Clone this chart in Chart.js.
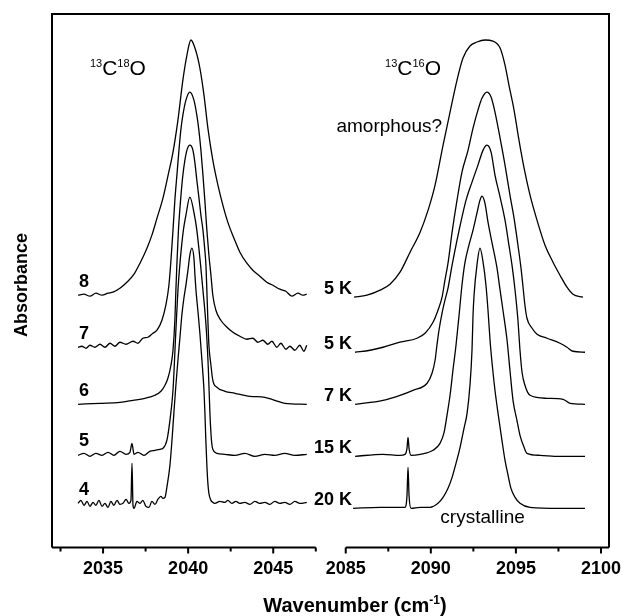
<!DOCTYPE html>
<html>
<head>
<meta charset="utf-8">
<script src="https://cdn.jsdelivr.net/npm/chart.js@4/dist/chart.umd.min.js"></script>
<style>
  body { margin: 0; background: #fff; }
  #wrap { width: 623px; height: 616px; }
</style>
</head>
<body>
<div id="wrap"><canvas id="spectra" width="623" height="616"></canvas></div>
<script>
// 13C18O band, spectra 4..8 (bottom to top), absorbance relative to own baseline
const wn4 = [2033.53, 2033.70, 2033.88, 2034.06, 2034.23, 2034.41, 2034.58, 2034.76, 2034.94, 2035.11,
  2035.29, 2035.46, 2035.64, 2035.82, 2035.99, 2036.17, 2036.35, 2036.52, 2036.64, 2036.70,
  2036.76, 2036.82, 2036.99, 2037.17, 2037.34, 2037.52, 2037.70, 2037.87, 2038.05, 2038.22,
  2038.40, 2038.52, 2038.64, 2038.75, 2038.93, 2039.05, 2039.16, 2039.28, 2039.40, 2039.52,
  2039.63, 2039.75, 2039.87, 2039.99, 2040.10, 2040.22, 2040.34, 2040.40, 2040.46, 2040.57,
  2040.69, 2040.81, 2040.93, 2040.98, 2041.04, 2041.10, 2041.16, 2041.22, 2041.34, 2041.45,
  2041.57, 2041.86, 2042.16, 2042.33, 2042.57, 2042.80, 2043.04, 2043.33, 2043.63, 2043.92,
  2044.21, 2044.51, 2044.80, 2045.09, 2045.39, 2045.68, 2045.98, 2046.27, 2046.56, 2046.97];
const ab4 = [0, 0.003, -0.002, 0.002, -0.003, 0.001, -0.002, 0.003, -0.003, 0,
  -0.004, 0.002, -0.002, 0.003, -0.001, 0, 0.004, 0, 0.003, 0.040,
  -0.002, -0.005, 0.002, 0, 0.003, -0.003, -0.004, 0.002, -0.001, 0.004,
  0.007, 0.005, 0.006, 0.016, 0.038, 0.063, 0.090, 0.118, 0.143, 0.166,
  0.188, 0.205, 0.218, 0.233, 0.248, 0.255, 0.245, 0.228, 0.213, 0.193,
  0.170, 0.143, 0.113, 0.093, 0.063, 0.038, 0.020, 0.010, 0.003, 0.001,
  0, 0.002, 0.001, 0.003, 0, 0.002, 0, 0.001, -0.001, 0.002,
  0, 0.001, -0.001, 0.002, 0, 0.001, -0.001, 0.002, 0, 0.001];

const wn5 = [2033.53, 2033.88, 2034.23, 2034.58, 2034.94, 2035.29, 2035.64, 2035.99, 2036.35, 2036.58,
  2036.70, 2036.82, 2037.05, 2037.40, 2037.75, 2038.05, 2038.34, 2038.52, 2038.75, 2038.93,
  2039.11, 2039.28, 2039.40, 2039.52, 2039.72, 2039.87, 2040.10, 2040.37, 2040.51, 2040.72,
  2040.87, 2041.07, 2041.19, 2041.28, 2041.37, 2041.45, 2041.69, 2042.16, 2042.75, 2043.33,
  2043.92, 2044.51, 2045.09, 2045.68, 2046.27, 2046.97];
const ab5 = [-0.001, 0.001, -0.002, 0.001, -0.001, 0.002, -0.001, 0.003, 0, 0.002,
  0.011, 0, 0.002, -0.001, 0.003, 0.004, 0.005, 0.006, 0.014, 0.034,
  0.064, 0.124, 0.164, 0.191, 0.224, 0.239, 0.257, 0.239, 0.224, 0.191,
  0.164, 0.124, 0.084, 0.041, 0.014, 0.005, 0.001, 0, -0.001, 0.001,
  -0.002, 0, -0.001, 0.001, -0.001, 0];

const wn6 = [2033.53, 2034.82, 2035.99, 2036.76, 2037.46, 2038.05, 2038.40, 2038.64, 2038.81, 2038.99,
  2039.11, 2039.22, 2039.28, 2039.34, 2039.43, 2039.57, 2039.69, 2039.81, 2039.93, 2040.10,
  2040.28, 2040.40, 2040.51, 2040.63, 2040.75, 2040.87, 2040.98, 2041.04, 2041.10, 2041.16,
  2041.22, 2041.34, 2041.45, 2041.69, 2042.16, 2042.75, 2043.63, 2044.51, 2045.09, 2045.68,
  2046.97];
const ab6 = [0, 0.001, 0.002, 0.004, 0.006, 0.009, 0.013, 0.019, 0.026, 0.039,
  0.054, 0.084, 0.114, 0.141, 0.174, 0.207, 0.229, 0.244, 0.254, 0.259,
  0.254, 0.241, 0.224, 0.207, 0.189, 0.174, 0.154, 0.141, 0.114, 0.084,
  0.059, 0.039, 0.024, 0.017, 0.013, 0.011, 0.008, 0.007, 0.004, 0.001,
  0];

const wn7 = [2033.53, 2033.76, 2034.00, 2034.23, 2034.52, 2034.82, 2035.11, 2035.41, 2035.70, 2035.99,
  2036.35, 2036.76, 2037.05, 2037.34, 2037.64, 2037.93, 2038.17, 2038.46, 2038.69, 2038.87,
  2038.99, 2039.11, 2039.22, 2039.34, 2039.46, 2039.57, 2039.69, 2039.87, 2040.10, 2040.34,
  2040.51, 2040.63, 2040.75, 2040.87, 2040.98, 2041.10, 2041.22, 2041.34, 2041.45, 2041.63,
  2041.92, 2042.28, 2042.63, 2043.04, 2043.45, 2043.80, 2044.10, 2044.39, 2044.68, 2044.92,
  2045.21, 2045.45, 2045.74, 2045.98, 2046.27, 2046.56, 2046.80, 2046.97];
const ab7 = [0, 0.001, -0.001, 0.002, 0, 0.003, 0, 0.004, 0.001, 0.005,
  0.003, 0.006, 0.004, 0.009, 0.010, 0.014, 0.017, 0.027, 0.042, 0.062,
  0.087, 0.117, 0.147, 0.172, 0.197, 0.217, 0.232, 0.247, 0.255, 0.247,
  0.232, 0.217, 0.197, 0.172, 0.147, 0.117, 0.092, 0.072, 0.052, 0.037,
  0.027, 0.020, 0.015, 0.011, 0.008, 0.009, 0.005, 0.007, 0.003, 0.006,
  0, 0.004, -0.002, 0.001, -0.003, 0.002, -0.004, 0.002];

const wn8 = [2033.53, 2033.88, 2034.23, 2034.58, 2034.94, 2035.29, 2035.58, 2035.99, 2036.40, 2036.82,
  2037.17, 2037.58, 2037.87, 2038.17, 2038.52, 2038.81, 2039.11, 2039.40, 2039.69, 2039.93,
  2040.16, 2040.40, 2040.69, 2040.93, 2041.16, 2041.45, 2041.75, 2042.04, 2042.33, 2042.69,
  2043.04, 2043.45, 2043.80, 2044.21, 2044.62, 2044.98, 2045.39, 2045.74, 2046.09, 2046.45,
  2046.74, 2046.97];
const ab8 = [0, 0.001, -0.001, 0.002, 0, 0.002, 0.003, 0.007, 0.013, 0.021,
  0.032, 0.047, 0.060, 0.077, 0.097, 0.119, 0.143, 0.175, 0.215, 0.240,
  0.255, 0.247, 0.227, 0.200, 0.167, 0.135, 0.110, 0.090, 0.073, 0.057,
  0.043, 0.032, 0.025, 0.019, 0.013, 0.010, 0.006, 0.004, -0.001, 0.002,
  0, 0.001];

// 13C16O band, 20 K .. 5 K (bottom to top)
const wn20K = [2085.43, 2087.02, 2088.48, 2088.60, 2088.66, 2088.72, 2088.84, 2089.37, 2089.95, 2090.42,
  2090.72, 2091.01, 2091.25, 2091.48, 2091.72, 2091.95, 2092.13, 2092.30, 2092.42, 2092.48,
  2092.54, 2092.71, 2092.89, 2093.07, 2093.24, 2093.36, 2093.48, 2093.60, 2093.77, 2093.95,
  2094.18, 2094.36, 2094.54, 2094.71, 2094.95, 2095.24, 2095.83, 2097.59, 2099.06];
const ab20K = [0, 0.001, 0.001, 0.013, 0.041, 0.013, 0, 0.001, 0.001, 0.005,
  0.011, 0.020, 0.031, 0.045, 0.061, 0.080, 0.095, 0.123, 0.158, 0.193,
  0.213, 0.243, 0.260, 0.246, 0.223, 0.198, 0.168, 0.145, 0.118, 0.095,
  0.068, 0.048, 0.033, 0.020, 0.011, 0.005, 0.001, 0, 0];

const wn15K = [2085.55, 2087.19, 2088.19, 2088.48, 2088.60, 2088.66, 2088.72, 2088.84, 2089.37, 2090.13,
  2090.54, 2090.78, 2090.95, 2091.13, 2091.30, 2091.48, 2091.66, 2091.83, 2092.01, 2092.24,
  2092.48, 2092.71, 2092.89, 2093.01, 2093.18, 2093.36, 2093.60, 2093.89, 2094.07, 2094.24,
  2094.48, 2094.65, 2094.83, 2095.06, 2095.24, 2095.48, 2095.65, 2096.42, 2097.59, 2099.06];
const ab15K = [0, 0.002, 0.001, 0.002, 0.008, 0.019, 0.008, 0.001, 0.002, 0.006,
  0.013, 0.024, 0.041, 0.061, 0.086, 0.111, 0.141, 0.171, 0.194, 0.211,
  0.226, 0.243, 0.256, 0.260, 0.253, 0.234, 0.213, 0.188, 0.166, 0.146,
  0.116, 0.086, 0.056, 0.036, 0.021, 0.009, 0.003, 0.001, 0, 0];

const wn7K = [2085.55, 2087.19, 2088.19, 2088.95, 2089.78, 2090.07, 2090.25, 2090.36, 2090.48, 2090.66,
  2090.83, 2091.01, 2091.25, 2091.54, 2091.83, 2092.07, 2092.42, 2092.77, 2093.07, 2093.30,
  2093.54, 2093.77, 2094.07, 2094.36, 2094.59, 2094.77, 2094.95, 2095.12, 2095.24, 2095.36,
  2095.53, 2095.83, 2096.83, 2097.77, 2098.18, 2099.06];
const ab7K = [0, 0.004, 0.009, 0.014, 0.021, 0.031, 0.044, 0.059, 0.074, 0.091,
  0.104, 0.116, 0.139, 0.164, 0.187, 0.204, 0.222, 0.239, 0.254, 0.259,
  0.252, 0.229, 0.207, 0.184, 0.159, 0.139, 0.114, 0.084, 0.054, 0.032,
  0.019, 0.009, 0.006, 0.005, 0.001, 0];

const wn5Kb = [2085.55, 2086.43, 2087.19, 2088.19, 2089.19, 2089.66, 2090.13, 2090.42, 2090.66, 2090.83,
  2091.01, 2091.25, 2091.54, 2091.83, 2092.19, 2092.48, 2092.77, 2093.01, 2093.30, 2093.54,
  2093.77, 2094.07, 2094.36, 2094.65, 2094.89, 2095.12, 2095.30, 2095.42, 2095.53, 2095.65,
  2095.95, 2096.24, 2096.83, 2097.59, 2098.00, 2098.35, 2099.06];
const ab5Kb = [0, 0.002, 0.005, 0.010, 0.014, 0.019, 0.030, 0.042, 0.055, 0.072,
  0.089, 0.120, 0.152, 0.180, 0.202, 0.224, 0.242, 0.254, 0.260, 0.255,
  0.240, 0.214, 0.187, 0.157, 0.134, 0.107, 0.084, 0.065, 0.047, 0.034,
  0.024, 0.018, 0.014, 0.009, 0.005, 0.001, 0];

const wn5Ka = [2085.49, 2086.25, 2087.02, 2087.60, 2088.19, 2088.78, 2089.37, 2089.84, 2090.25, 2090.72,
  2091.13, 2091.54, 2091.89, 2092.30, 2092.71, 2093.18, 2093.65, 2094.07, 2094.36, 2094.59,
  2094.89, 2095.18, 2095.48, 2095.83, 2096.24, 2096.71, 2097.18, 2097.59, 2098.00, 2098.35,
  2098.94];
const ab5Ka = [0, 0.002, 0.007, 0.013, 0.025, 0.045, 0.065, 0.087, 0.112, 0.152,
  0.185, 0.217, 0.239, 0.251, 0.255, 0.257, 0.256, 0.249, 0.232, 0.212,
  0.187, 0.157, 0.129, 0.102, 0.077, 0.052, 0.035, 0.022, 0.010, 0.003,
  0];

const leftLabels = ['4', '5', '6', '7', '8'];
const leftOffsets = [0.044, 0.093, 0.143, 0.200, 0.252];
const rightLabels = ['20 K', '15 K', '7 K', '5 K', '5 K'];
const rightOffsets = [0.039, 0.091, 0.143, 0.195, 0.250];

const leftTicks = [2032.5, 2035, 2037.5, 2040, 2042.5, 2045, 2047.5];
const rightTicks = [2085, 2087.5, 2090, 2092.5, 2095, 2097.5, 2100];

// broken x axis: the right band is slid left so both panels share one scale
const LEFT_END = 2047.5, RIGHT_START = 2085, GAP = 1.76;
const SHIFT = RIGHT_START - LEFT_END - GAP;
function toAxis(w) { return w > 2060 ? w - SHIFT : w; }
function fromAxis(v) { return v > LEFT_END + GAP / 2 ? v + SHIFT : v; }

const FONT = '"Liberation Sans", Arial, sans-serif';

function trace(wn, ab, off) {
    return {
        data: wn.map((w, i) => ({ x: toAxis(w), y: off + ab[i] })),
        borderColor: '#000',
        borderWidth: 1.3,
        pointRadius: 0,
        fill: false,
        cubicInterpolationMode: 'monotone'
    };
}

const leftSet = [[wn4, ab4], [wn5, ab5], [wn6, ab6], [wn7, ab7], [wn8, ab8]];
const rightSet = [[wn20K, ab20K], [wn15K, ab15K], [wn7K, ab7K], [wn5Kb, ab5Kb], [wn5Ka, ab5Ka]];
const datasets = [];
leftSet.forEach((s, i) => datasets.push(trace(s[0], s[1], leftOffsets[i])));
rightSet.forEach((s, i) => datasets.push(trace(s[0], s[1], rightOffsets[i])));

// text with superscripts: parts = [[text, isSup], ...]
function drawSup(ctx, parts, x, y, big, small, weight, rise) {
    let cx = x;
    parts.forEach(p => {
        ctx.font = weight + ' ' + (p[1] ? small : big) + 'px ' + FONT;
        ctx.fillText(p[0], cx, p[1] ? y - rise : y);
        cx += ctx.measureText(p[0]).width;
    });
    return cx - x;
}
function supWidth(ctx, parts, big, small, weight) {
    let w = 0;
    parts.forEach(p => {
        ctx.font = weight + ' ' + (p[1] ? small : big) + 'px ' + FONT;
        w += ctx.measureText(p[0]).width;
    });
    return w;
}

const framePlugin = {
    id: 'frame',
    afterDraw(chart) {
        const ctx = chart.ctx, a = chart.chartArea;
        const x = chart.scales.x, y = chart.scales.y;
        ctx.save();
        ctx.strokeStyle = '#000';
        ctx.lineWidth = 2;
        ctx.beginPath();
        ctx.moveTo(a.left, a.bottom);
        ctx.lineTo(a.left, a.top);
        ctx.lineTo(a.right, a.top);
        ctx.lineTo(a.right, a.bottom);
        const bl = x.getPixelForValue(toAxis(LEFT_END));
        const br = x.getPixelForValue(toAxis(RIGHT_START));
        ctx.moveTo(a.left, a.bottom);
        ctx.lineTo(bl, a.bottom);
        ctx.moveTo(br, a.bottom);
        ctx.lineTo(a.right, a.bottom);
        ctx.stroke();

        ctx.beginPath();
        leftTicks.concat(rightTicks).forEach(t => {
            const px = x.getPixelForValue(toAxis(t));
            ctx.moveTo(px, a.bottom);
            ctx.lineTo(px, a.bottom + (t % 5 === 0 ? 6 : 4));
        });
        ctx.stroke();

        ctx.fillStyle = '#000';
        ctx.textBaseline = 'alphabetic';
        ctx.textAlign = 'left';

        // band names
        const yName = y.getPixelForValue(0.472);
        drawSup(ctx, [['13', true], ['C', false], ['18', true], ['O', false]],
            x.getPixelForValue(toAxis(2034.23)), yName, 21, 11, 'normal', 8);
        drawSup(ctx, [['13', true], ['C', false], ['16', true], ['O', false]],
            x.getPixelForValue(toAxis(2087.31)), yName, 21, 11, 'normal', 8);

        ctx.font = '19px ' + FONT;
        ctx.textAlign = 'right';
        ctx.fillText('amorphous?', x.getPixelForValue(toAxis(2090.66)), y.getPixelForValue(0.415));
        ctx.textAlign = 'center';
        ctx.fillText('crystalline', x.getPixelForValue(toAxis(2093.04)), y.getPixelForValue(0.024));

        // trace labels
        ctx.font = 'bold 18px ' + FONT;
        ctx.textAlign = 'left';
        leftLabels.forEach((l, i) => {
            ctx.fillText(l, x.getPixelForValue(toAxis(2033.59)), y.getPixelForValue(leftOffsets[i]) - 8);
        });
        ctx.textAlign = 'right';
        rightLabels.forEach((l, i) => {
            ctx.fillText(l, x.getPixelForValue(toAxis(2085.37)), y.getPixelForValue(rightOffsets[i]) - 3);
        });

        // axis titles
        ctx.textAlign = 'left';
        const tParts = [['Wavenumber (cm', false], ['-1', true], [')', false]];
        const tw = supWidth(ctx, tParts, 20, 12, 'bold');
        drawSup(ctx, tParts, 355 - tw / 2, 612, 20, 12, 'bold', 8);

        ctx.translate(22, 285);
        ctx.rotate(-Math.PI / 2);
        ctx.font = 'bold 18px ' + FONT;
        ctx.textAlign = 'center';
        ctx.textBaseline = 'middle';
        ctx.fillText('Absorbance', 0, 0);
        ctx.restore();
    }
};

new Chart(document.getElementById('spectra').getContext('2d'), {
    type: 'line',
    data: { datasets: datasets },
    options: {
        responsive: false,
        animation: false,
        layout: { padding: { left: 52, right: 14, top: 14, bottom: 25 } },
        plugins: { legend: { display: false }, tooltip: { enabled: false } },
        scales: {
            x: {
                type: 'linear',
                min: 2032,
                max: toAxis(2100.47),
                grid: { display: false, drawTicks: false },
                border: { display: false },
                afterBuildTicks: s => {
                    s.ticks = leftTicks.concat(rightTicks).map(t => ({ value: toAxis(t) }));
                },
                afterFit: s => { s.paddingLeft = 0; s.paddingRight = 0; },
                ticks: {
                    autoSkip: false,
                    maxRotation: 0,
                    padding: 11,
                    color: '#000',
                    font: { family: FONT, size: 18, weight: 'bold' },
                    callback: v => {
                        const w = Math.round(fromAxis(v) * 10) / 10;
                        return w % 5 === 0 ? String(w) : '';
                    }
                }
            },
            y: { display: false, min: 0, max: 0.533 }
        }
    },
    plugins: [framePlugin]
});
</script>
</body>
</html>
